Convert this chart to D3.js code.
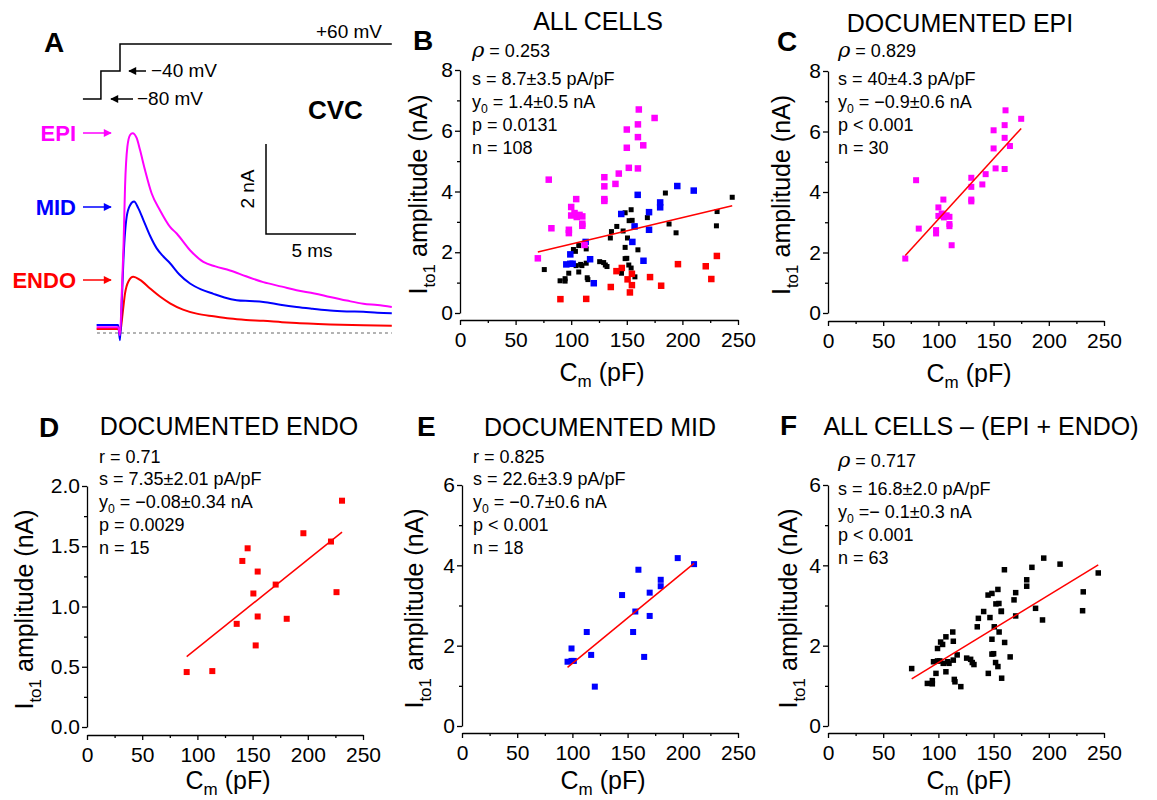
<!DOCTYPE html>
<html>
<head>
<meta charset="utf-8">
<script src="https://cdnjs.cloudflare.com/ajax/libs/d3/7.8.5/d3.min.js"></script>
<style>
  body { margin: 0; background: #fff; }
  svg { font-family: "Liberation Sans", Arial, sans-serif; }
</style>
</head>
<body>
<script>
// ---- data ----

// panel A: current traces (time in ms from the +60 mV step, current in nA)
const epiT = [-1.3, -0.1, 0, 0.1, 0.2, 0.28, 0.41, 0.56, 0.70, 0.93, 1.11, 1.39, 1.76, 2.22, 2.78, 3.15, 3.89, 4.63, 5.3, 6.11, 7.0, 7.96, 9.0, 9.81, 10.8, 11.67, 12.6, 13.52, 14.3, 15.1];
const epiI = [0.13, 0.13, -0.05, 0.9, 2.0, 3.25, 4.14, 4.40, 4.44, 4.33, 4.07, 3.62, 3.10, 2.73, 2.36, 2.21, 1.84, 1.58, 1.48, 1.39, 1.26, 1.13, 1.03, 0.95, 0.88, 0.80, 0.72, 0.65, 0.62, 0.58];
const midT = [-1.3, -0.1, 0, 0.1, 0.19, 0.37, 0.56, 0.78, 1.02, 1.30, 1.67, 2.04, 2.41, 2.78, 3.3, 3.89, 4.5, 5.19, 5.8, 6.48, 7.2, 7.96, 8.9, 9.81, 10.7, 11.67, 12.6, 13.52, 14.3, 15.1];
const midI = [0.18, 0.18, -0.16, 0.7, 1.62, 2.58, 2.84, 2.92, 2.77, 2.51, 2.16, 1.88, 1.70, 1.55, 1.30, 1.10, 0.97, 0.87, 0.79, 0.73, 0.71, 0.69, 0.63, 0.58, 0.54, 0.50, 0.48, 0.47, 0.45, 0.44];
const endoT = [-1.3, -0.1, 0, 0.15, 0.28, 0.46, 0.74, 1.11, 1.67, 2.22, 2.78, 3.5, 4.26, 5.2, 6.11, 7.0, 7.96, 9.0, 9.81, 11.0, 11.67, 13.52, 15.1];
const endoI = [0.09, 0.09, 0.0, 0.45, 0.88, 1.14, 1.25, 1.18, 0.99, 0.81, 0.66, 0.52, 0.43, 0.37, 0.32, 0.29, 0.27, 0.24, 0.22, 0.20, 0.19, 0.17, 0.16];

// voltage protocol (step start times in ms, level in mV)
const protoT = [-2.06, -1.06, 0, 15.1];
const protoV = [-80, -40, 60, 60];

// Cm (pF) and Ito1 amplitude (nA) per cell group
const epiCm  = [70, 79.8, 82.2, 97.9, 97.9, 100, 100, 104.5, 103, 105, 107.5, 110, 110, 110, 112, 129.8, 129.8, 129.8, 129.8, 139.8, 142.8, 150, 150, 151.8, 160, 160, 160, 160.8, 164.8, 175];
const epiIto = [1.80, 4.39, 2.79, 2.74, 2.63, 3.49, 3.21, 3.75, 3.29, 3.16, 3.23, 3.18, 2.94, 2.87, 2.24, 4.47, 4.17, 3.75, 3.69, 4.25, 4.59, 6.04, 5.44, 4.78, 4.76, 6.21, 5.79, 6.70, 5.52, 6.42];

const endoCm  = [90.3, 113.5, 135.6, 140.7, 145.5, 150.7, 152.8, 154.6, 154.6, 170.9, 180.9, 196, 221, 226, 231];
const endoIto = [0.456, 0.464, 0.856, 1.378, 1.483, 1.108, 0.677, 1.290, 0.917, 1.182, 0.898, 1.608, 1.539, 1.119, 1.878];

const midCm  = [95.6, 99.2, 99.2, 101.3, 113, 117, 120.3, 145, 155, 157, 159.8, 165, 170, 170, 180, 180, 195.4, 210.2];
const midIto = [1.60, 1.93, 1.62, 1.62, 2.34, 1.77, 0.98, 3.26, 2.34, 2.85, 3.89, 1.72, 3.32, 2.74, 3.64, 3.48, 4.18, 4.03];

const otherCm  = [75.8, 90.0, 94.5, 94.5, 97.8, 102.0, 103.8, 104.4, 106.8, 106.8, 108.5, 109.6, 113.5, 113.5, 114.4, 115.0, 125.6, 129.2, 130.7, 132.2, 135.2, 136.2, 141.0, 145.2, 146.7, 148.5, 148.5, 148.5, 150.0, 150.6, 151.8, 152.1, 153.9, 153.9, 154.8, 157.0, 157.3, 160.0, 168.5, 184.7, 188.0, 194.3, 230.6, 231.2, 244.8];
const otherIto = [1.43, 1.06, 1.13, 1.05, 1.31, 2.09, 2.03, 1.56, 2.22, 1.35, 1.60, 1.56, 2.11, 1.64, 1.16, 1.10, 1.69, 1.66, 1.58, 1.53, 2.47, 2.68, 2.85, 1.31, 2.70, 3.30, 2.16, 1.79, 1.80, 2.47, 1.58, 3.04, 3.40, 1.48, 3.05, 2.86, 1.19, 2.08, 3.14, 3.95, 2.93, 2.64, 2.87, 3.34, 3.81];

// linear fits: slope (pA/pF) and intercept (nA)
const fitPanels = ["B", "C", "D", "E", "F"];
const fitSlope  = [8.7, 40, 7.35, 22.6, 16.8];
const fitY0     = [1.4, -0.9, -0.08, -0.7, -0.1];

const statsB = ["ρ = 0.253", "s = 8.7±3.5 pA/pF", "y0 = 1.4±0.5 nA", "p = 0.0131", "n = 108"];
const statsC = ["ρ = 0.829", "s = 40±4.3 pA/pF", "y0 = −0.9±0.6 nA", "p < 0.001", "n = 30"];
const statsD = ["r = 0.71", "s = 7.35±2.01 pA/pF", "y0 = −0.08±0.34 nA", "p = 0.0029", "n = 15"];
const statsE = ["r = 0.825", "s = 22.6±3.9 pA/pF", "y0 = −0.7±0.6 nA", "p < 0.001", "n = 18"];
const statsF = ["ρ = 0.717", "s = 16.8±2.0 pA/pF", "y0 =− 0.1±0.3 nA", "p < 0.001", "n = 63"];

const xTicks = [0, 50, 100, 150, 200, 250];
const xMinor = [25, 75, 125, 175, 225];

// ---- drawing ----
const MAGENTA = "#ff00ff", BLUE = "#0000ff", RED = "#ff0000";

const svg = d3.select("body").append("svg")
    .attr("width", 1157)
    .attr("height", 800);

const defs = svg.append("defs");
function arrowMarker(id, color) {
  defs.append("marker")
    .attr("id", id)
    .attr("viewBox", "0 0 10 10")
    .attr("refX", 9).attr("refY", 5)
    .attr("markerWidth", 9).attr("markerHeight", 8)
    .attr("markerUnits", "userSpaceOnUse")
    .attr("orient", "auto")
    .append("path")
    .attr("d", "M0,0L10,5L0,10Z")
    .attr("fill", color);
}
arrowMarker("arK", "#000");
arrowMarker("arM", MAGENTA);
arrowMarker("arB", BLUE);
arrowMarker("arR", RED);

// subscript helper: base + sub + rest
function subText(sel, base, sub, rest, size, shift) {
  const sh = shift || 0.3;
  sel.append("tspan").text(base);
  sel.append("tspan").attr("font-size", size * 0.68).attr("dy", size * sh).text(sub);
  sel.append("tspan").attr("dy", -size * sh).text(rest);
}

// ===== panel A =====
const gA = svg.append("g");
const tScale = d3.scaleLinear().domain([0, 5]).range([120, 210]);
const iScale = d3.scaleLinear().domain([0, 2]).range([333, 243]);
const vLevel = d3.scaleOrdinal().domain([-80, -40, 60]).range([99, 71, 44]);

gA.append("text").attr("x", 44).attr("y", 52)
  .attr("font-size", 28).attr("font-weight", "bold").text("A");

// protocol
gA.append("path")
  .datum(protoT.map((t, i) => [t, protoV[i]]))
  .attr("fill", "none").attr("stroke", "#000").attr("stroke-width", 1.5)
  .attr("d", d3.line().x(d => tScale(d[0])).y(d => vLevel(d[1])).curve(d3.curveStepAfter));

gA.append("text").attr("x", 382).attr("y", 38).attr("text-anchor", "end")
  .attr("font-size", 19).text("+60 mV");
gA.append("line").attr("x1", 146).attr("x2", 129).attr("y1", vLevel(-40)).attr("y2", vLevel(-40))
  .attr("stroke", "#000").attr("stroke-width", 1.5).attr("marker-end", "url(#arK)");
gA.append("text").attr("x", 151).attr("y", 77).attr("font-size", 19).text("−40 mV");
gA.append("line").attr("x1", 133).attr("x2", 111).attr("y1", vLevel(-80)).attr("y2", vLevel(-80))
  .attr("stroke", "#000").attr("stroke-width", 1.5).attr("marker-end", "url(#arK)");
gA.append("text").attr("x", 137).attr("y", 105).attr("font-size", 19).text("−80 mV");

gA.append("text").attr("x", 308).attr("y", 119)
  .attr("font-size", 26).attr("font-weight", "bold").text("CVC");

// zero line
gA.append("line")
  .attr("x1", tScale(-1.28)).attr("x2", tScale(15.1))
  .attr("y1", iScale(0)).attr("y2", iScale(0))
  .attr("stroke", "#666").attr("stroke-width", 1.2).attr("stroke-dasharray", "3,3");

const traceLine = d3.line().x(d => tScale(d[0])).y(d => iScale(d[1])).curve(d3.curveMonotoneX);
const traces = [
  {t: endoT, i: endoI, color: RED},
  {t: midT, i: midI, color: BLUE},
  {t: epiT, i: epiI, color: MAGENTA}
];
traces.forEach(tr => {
  gA.append("path")
    .datum(tr.t.map((t, k) => [t, tr.i[k]]))
    .attr("fill", "none").attr("stroke", tr.color).attr("stroke-width", 2)
    .attr("d", traceLine);
});

// trace labels
const traceLabels = [
  {name: "EPI", color: MAGENTA, y: 133, mk: "arM"},
  {name: "MID", color: BLUE, y: 207, mk: "arB"},
  {name: "ENDO", color: RED, y: 280, mk: "arR"}
];
traceLabels.forEach(l => {
  gA.append("text").attr("x", 76).attr("y", l.y + 8).attr("text-anchor", "end")
    .attr("font-size", 22).attr("font-weight", "bold").attr("fill", l.color).text(l.name);
  gA.append("line").attr("x1", 83).attr("x2", 111).attr("y1", l.y).attr("y2", l.y)
    .attr("stroke", l.color).attr("stroke-width", 1.5).attr("marker-end", "url(#" + l.mk + ")");
});

// scale bar
const sbX = 266, sbY = 234;
gA.append("path")
  .attr("fill", "none").attr("stroke", "#000").attr("stroke-width", 1.5)
  .attr("d", `M${sbX},${sbY - (iScale(0) - iScale(2))}V${sbY}H${sbX + tScale(5) - tScale(0)}`);
gA.append("text").attr("transform", `translate(254,${sbY - 45}) rotate(-90)`)
  .attr("text-anchor", "middle").attr("font-size", 19).text("2 nA");
gA.append("text").attr("x", sbX + 46).attr("y", 257)
  .attr("text-anchor", "middle").attr("font-size", 19).text("5 ms");

// ===== scatter panels =====
const epiSeries = {cm: epiCm, ito: epiIto};
const midSeries = {cm: midCm, ito: midIto};
const endoSeries = {cm: endoCm, ito: endoIto};
const otherSeries = {cm: otherCm, ito: otherIto};

const panels = [
  {id: "B", letter: [413, 50], title: "ALL CELLS", titleX: 598, titleY: 30,
   xr: [460, 738], yr: [313, 70], axisY: 320, xlabDy: 61, yMax: 8, yMajor: [0, 2, 4, 6, 8], yMinor: [1, 3, 5, 7],
   fmt: d3.format("d"), ylabX: 427, stats: statsB, statsX: 472, statsY: 85,
   layers: [
     {s: otherSeries, color: "#000", size: 5},
     {s: endoSeries, color: RED, size: 6.5},
     {s: midSeries, color: BLUE, size: 6.5},
     {s: epiSeries, color: MAGENTA, size: 6.5}],
   fitOn: [otherSeries, endoSeries, midSeries, epiSeries]},
  {id: "C", letter: [777, 51], title: "DOCUMENTED EPI", titleX: 960, titleY: 32,
   xr: [828, 1104], yr: [313, 71], axisY: 321, xlabDy: 61, yMax: 8, yMajor: [0, 2, 4, 6, 8], yMinor: [1, 3, 5, 7],
   fmt: d3.format("d"), ylabX: 790, stats: statsC, statsX: 838, statsY: 85,
   layers: [{s: epiSeries, color: MAGENTA, size: 6}],
   fitOn: [epiSeries]},
  {id: "D", letter: [39, 437], title: "DOCUMENTED ENDO", titleX: 229, titleY: 435,
   xr: [87, 363], yr: [727, 486], axisY: 735, xlabDy: 54, yMax: 2, yMajor: [0, 0.5, 1, 1.5, 2], yMinor: [0.25, 0.75, 1.25, 1.75],
   fmt: d3.format(".1f"), ylabX: 33, stats: statsD, statsX: 99, statsY: 485,
   layers: [{s: endoSeries, color: RED, size: 6}],
   fitOn: [endoSeries]},
  {id: "E", letter: [417, 436], title: "DOCUMENTED MID", titleX: 600, titleY: 436,
   xr: [462, 738], yr: [726, 485], axisY: 733, xlabDy: 56, yMax: 6, yMajor: [0, 2, 4, 6], yMinor: [1, 3, 5],
   fmt: d3.format("d"), ylabX: 423, stats: statsE, statsX: 473, statsY: 485,
   layers: [{s: midSeries, color: BLUE, size: 6}],
   fitOn: [midSeries]},
  {id: "F", letter: [780, 435], title: "ALL CELLS – (EPI + ENDO)", titleX: 981, titleY: 435,
   xr: [828, 1104], yr: [726, 485], axisY: 733, xlabDy: 56, yMax: 6, yMajor: [0, 2, 4, 6], yMinor: [1, 3, 5],
   fmt: d3.format("d"), ylabX: 797, stats: statsF, statsX: 838, statsY: 495,
   layers: [{s: otherSeries, color: "#000", size: 5.5}, {s: midSeries, color: "#000", size: 5.5}],
   fitOn: [otherSeries, midSeries]}
];

function drawScatter(p) {
  const g = svg.append("g").attr("class", "panel-" + p.id);
  const x = d3.scaleLinear().domain([0, 250]).range(p.xr);
  const y = d3.scaleLinear().domain([0, p.yMax]).range(p.yr);

  // letter + title
  g.append("text").attr("x", p.letter[0]).attr("y", p.letter[1])
    .attr("font-size", 28).attr("font-weight", "bold").text(p.id);
  g.append("text").attr("x", p.titleX).attr("y", p.titleY).attr("text-anchor", "middle")
    .attr("font-size", 25).text(p.title);

  // y axis
  g.append("g").attr("transform", `translate(${p.xr[0]},0)`)
    .call(d3.axisLeft(y).tickValues(p.yMajor).tickFormat(p.fmt).tickSize(5).tickSizeOuter(0).tickPadding(2));
  g.append("g").attr("transform", `translate(${p.xr[0]},0)`)
    .call(d3.axisLeft(y).tickValues(p.yMinor).tickFormat("").tickSize(3).tickSizeOuter(0))
    .select(".domain").remove();

  // x axis
  g.append("g").attr("transform", `translate(0,${p.axisY})`)
    .call(d3.axisBottom(x).tickValues(xTicks).tickSize(5).tickSizeOuter(0).tickPadding(7));
  g.append("g").attr("transform", `translate(0,${p.axisY})`)
    .call(d3.axisBottom(x).tickValues(xMinor).tickFormat("").tickSize(3).tickSizeOuter(0))
    .select(".domain").remove();

  g.selectAll(".tick text").attr("font-size", 21).attr("fill", "#000")
    .attr("font-family", "Liberation Sans, Arial, sans-serif");
  g.selectAll(".domain, .tick line").attr("stroke", "#000").attr("stroke-width", 1.3);

  // axis labels
  const yl = g.append("text")
    .attr("transform", `translate(${p.ylabX},${(p.yr[0] + p.yr[1]) / 2 + 3}) rotate(-90)`)
    .attr("text-anchor", "middle").attr("font-size", 25);
  subText(yl, "I", "to1", " amplitude (nA)", 25);
  const xl = g.append("text")
    .attr("x", (p.xr[0] + p.xr[1]) / 2 + 3).attr("y", p.axisY + p.xlabDy)
    .attr("text-anchor", "middle").attr("font-size", 25);
  subText(xl, "C", "m", " (pF)", 25, 0.22);

  // points
  p.layers.forEach(l => {
    g.append("g").selectAll("rect")
      .data(l.s.cm.map((c, k) => [c, l.s.ito[k]]))
      .enter().append("rect")
      .attr("x", d => x(d[0]) - l.size / 2)
      .attr("y", d => y(d[1]) - l.size / 2)
      .attr("width", l.size).attr("height", l.size)
      .attr("fill", l.color);
  });

  // fit line over the data range
  const k = fitPanels.indexOf(p.id);
  const allCm = p.fitOn.flatMap(s => s.cm);
  const ext = d3.extent(allCm);
  const fitY = c => fitY0[k] + fitSlope[k] / 1000 * c;
  g.append("line")
    .attr("x1", x(ext[0])).attr("y1", y(fitY(ext[0])))
    .attr("x2", x(ext[1])).attr("y2", y(fitY(ext[1])))
    .attr("stroke", RED).attr("stroke-width", 1.5);

  // stats
  p.stats.forEach((s, i) => {
    let yy = p.statsY + (i - 1) * 23;
    if (i === 0) yy = p.statsY - (s[0] === "ρ" ? 28 : 22);
    const t = g.append("text").attr("x", p.statsX).attr("y", yy).attr("font-size", 18);
    if (s[0] === "ρ") {
      t.append("tspan").attr("font-style", "italic").attr("font-size", 21).attr("font-family", "DejaVu Serif, serif").text("ρ");
      t.append("tspan").text(s.slice(1));
    } else if (s.startsWith("y0")) {
      subText(t, "y", "0", s.slice(2), 18);
    } else {
      t.text(s);
    }
  });
}

panels.forEach(drawScatter);
</script>
</body>
</html>
